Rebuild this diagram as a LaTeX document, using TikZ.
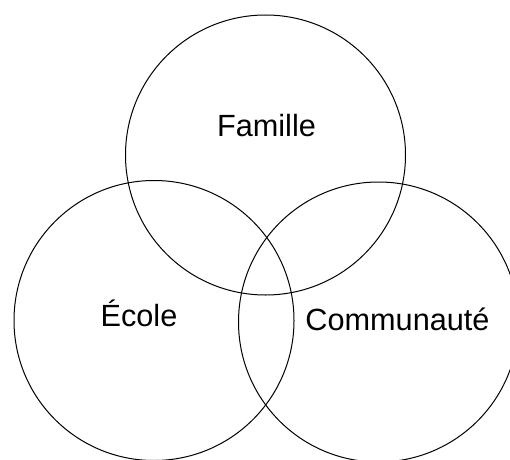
\documentclass[tikz,border=0pt]{standalone}
\usepackage{fontspec}
\setmainfont{Liberation Sans}
\begin{document}
\begin{tikzpicture}[x=0.75pt, y=-0.75pt,
    ring/.style={draw=black, line width=0.75pt},
    setname/.style={font=\fontsize{23}{28}\selectfont, anchor=base}]
    % Three overlapping circles (Venn)
    \useasboundingbox (0,0) rectangle (510,460);

    % --- Circles ---
    \draw[ring] (265.5,155) circle[radius=105pt];
    \draw[ring] (154,320.5) circle[radius=105pt];
    \draw[ring] (378.5,322) circle[radius=105pt];

    % --- Names ---
    \node[setname] (famille) at (266.5,136) {Famille};
    \node[setname] (ecole) at (139,326.7) {École};
    \node[setname] (communaute) at (397.5,330) {Communauté};
\end{tikzpicture}
\end{document}
